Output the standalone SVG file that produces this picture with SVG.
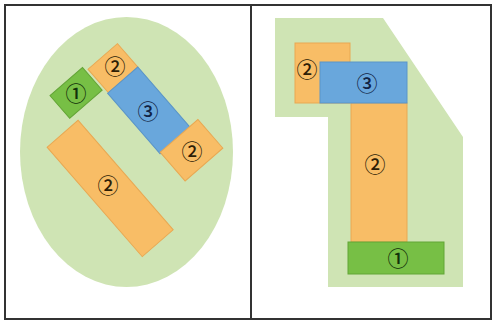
<svg xmlns="http://www.w3.org/2000/svg" width="495" height="321" viewBox="0 0 495 321">
<style>
.bg{fill:#cfe4b4}
.or{fill:#f8bd66;stroke:#e9a852;stroke-width:1}
.bl{fill:#69a7dc;stroke:#5a95c8;stroke-width:1}
.gr{fill:#77bf45;stroke:#63a536;stroke-width:1}
.lb{font-family:"Noto Sans CJK JP","DejaVu Sans",sans-serif;font-size:21px;font-weight:500;text-anchor:middle;dominant-baseline:central}
.lo{fill:#2e1e06}
.lbl{fill:#122444}
.lg{fill:#12300a}
.frame{fill:none;stroke:#333;stroke-width:2}
</style>
<rect width="495" height="321" fill="#fff"/>
<g id="left-panel">
<ellipse class="bg" cx="126.5" cy="152" rx="106.5" ry="135"/>
</g>
<g id="left-big2">
<rect class="or" x="142" y="20" width="145" height="41" transform="rotate(49)"/>
<text class="lb lo" x="108" y="184">②</text>
</g>
<g id="left-1">
<rect class="gr" x="105" y="-18" width="30" height="43" transform="rotate(49)"/>
<text class="lb lg" x="76" y="92">①</text>
</g>
<g id="left-top2">
<rect class="or" x="110" y="-60" width="31" height="39" transform="rotate(49)"/>
<text class="lb lo" x="115" y="65">②</text>
</g>
<g id="left-3">
<rect class="bl" x="141" y="-60" width="80" height="40" transform="rotate(49)"/>
<text class="lb lbl" x="148" y="110">③</text>
</g>
<g id="left-right2">
<rect class="or" x="220" y="-71" width="38" height="50" transform="rotate(49)"/>
<text class="lb lo" x="192" y="150">②</text>
</g>
<g id="right-panel">
<polygon class="bg" points="275,18 383,18 463,137 463,287 328,287 328,117 275,117"/>
</g>
<g id="right-small2">
<rect class="or" x="295" y="43" width="55" height="60"/>
<text class="lb lo" x="307" y="68">②</text>
</g>
<g id="right-tall2">
<rect class="or" x="351" y="103" width="56" height="139"/>
<text class="lb lo" x="375" y="163">②</text>
</g>
<g id="right-3">
<rect class="bl" x="320" y="62" width="87" height="41"/>
<text class="lb lbl" x="367" y="82">③</text>
</g>
<g id="right-1">
<rect class="gr" x="348" y="242" width="96" height="32"/>
<text class="lb lg" x="398" y="257">①</text>
</g>
<g id="frame">
<rect class="frame" x="5" y="5" width="486" height="314"/>
<line class="frame" x1="251" y1="5" x2="251" y2="319"/>
</g>
</svg>
